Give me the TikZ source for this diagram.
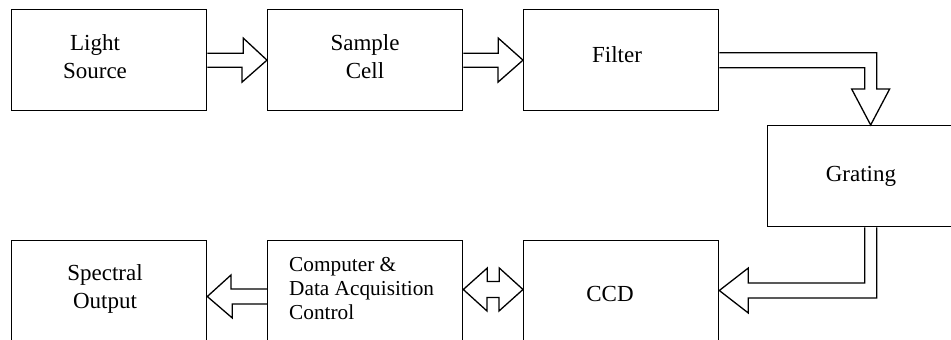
\documentclass[tikz,border=0pt]{standalone}
\usepackage{fontspec}
\setmainfont{Liberation Serif}
\usetikzlibrary{calc}
\begin{document}
\begin{tikzpicture}[x=1pt,y=-1pt,
  box/.style={draw,line width=1.3pt,rectangle,inner sep=0pt,anchor=north west,minimum width=195pt},
  topbox/.style={box,minimum height=101pt},
  botbox/.style={box,minimum height=120pt},
  blk/.style={draw,line width=1.3pt,line join=miter},
  lbl/.style={inner sep=0pt,font=\fontsize{23}{28}\selectfont,align=center,anchor=north},
  lblsmall/.style={inner sep=0pt,font=\fontsize{21.3}{24}\selectfont,align=left,anchor=north west}]
\useasboundingbox (0,0) rectangle (951,340);
\clip (0,0) rectangle (951,340);
% boxes
\node[topbox] (ls) at (11,9) {};
\node[topbox] (sc) at (267,9) {};
\node[topbox] (fi) at (523,9) {};
\node[box,minimum width=206pt,minimum height=101pt] (gr) at (767,125) {};
\node[botbox] (so) at (11,240) {};
\node[botbox] (comp) at (267,240) {};
\node[botbox] (ccd) at (523,240) {};
% labels
\node[lbl] (lst) at (95,34.3) {Light\\Source};
\node[lbl] (sct) at (365,34.3) {Sample\\Cell};
\node[lbl] (fit) at (617,46.3) {Filter};
\node[lbl] (grt) at (861,166.4) {Grating};
\node[lbl] (sot) at (105,264.3) {Spectral\\Output};
\node[lblsmall] (compt) at (289,257.6) {Computer \&\\Data Acquisition\\Control};
\node[lbl] (ccdt) at (610,286.4) {CCD};
% block arrows
\draw[blk] ($(ls.east)+(0,-7)$) -- ++(36,0) -- ++(0,-15) -- (sc.west) -- ++(-25,22) -- ++(0,-15) -- ($(ls.east)+(0,7)$);
\draw[blk] ($(sc.east)+(0,-7)$) -- ++(35,0) -- ++(0,-15) -- (fi.west) -- ++(-25,22) -- ++(0,-15) -- ($(sc.east)+(0,7)$);
\draw[blk] ($(fi.east)+(0,-7.5)$) -| ($(gr.north)+(6,-36)$) -- ++(13,0) -- (gr.north) -- ++(-19,-36) -- ++(13,0) |- ($(fi.east)+(0,7.5)$);
\draw[blk] ($(gr.south)+(-6,0)$) |- ($(ccd.north east)+(29,43)$) -- ++(0,-15) -- ($(ccd.north east)+(0,50.5)$) -- ++(29,22.5) -- ++(0,-15) -| ($(gr.south)+(6,0)$);
\coordinate (dl) at ($(comp.north east)+(0,49.5)$);
\coordinate (dr) at ($(ccd.north west)+(0,49.5)$);
\draw[blk] (dl) -- ++(24,-21.5) -- ++(0,13.5) -- ++(12,0) -- ++(0,-13.5) -- (dr) -- ++(-24,21.5) -- ++(0,-13.5) -- ++(-12,0) -- ++(0,13.5) -- cycle;
\draw[blk] ($(comp.north west)+(0,49)$) -- ++(-36,0) -- ++(0,-14) -- ($(so.north east)+(0,56.5)$) -- ++(25,21.5) -- ++(0,-14) -- ($(comp.north west)+(0,64)$);
\end{tikzpicture}
\end{document}
